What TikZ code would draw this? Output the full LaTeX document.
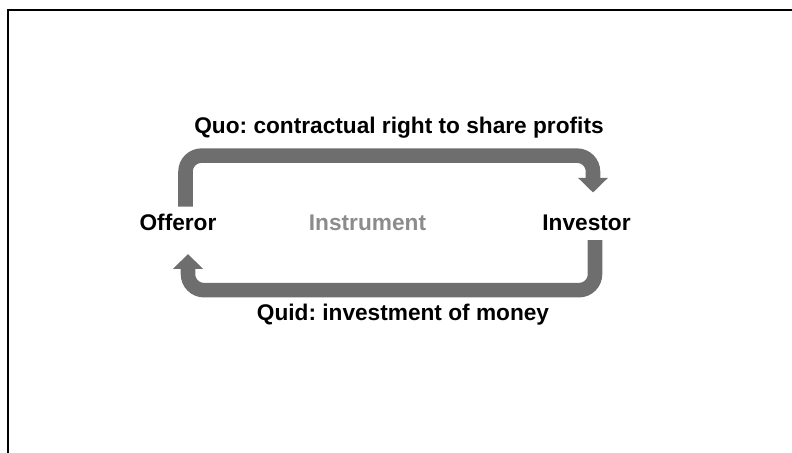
\documentclass[tikz,border=0pt]{standalone}
\usepackage{fontspec}
\setmainfont{Liberation Sans}
\usetikzlibrary{arrows.meta}
\definecolor{flowgray}{RGB}{110,110,110}
\definecolor{instgray}{RGB}{140,140,140}
\frenchspacing

\begin{document}
\begin{tikzpicture}[x=0.75pt,y=0.75pt,
  party/.style={font=\fontsize{17}{20}\selectfont\bfseries, inner sep=2pt, anchor=base},
  flow/.style={draw=flowgray, line width=10.9pt, rounded corners=12pt,
    -{Triangle[width=22.5pt,length=11pt,line width=0pt]}}]
\useasboundingbox (0,0) rectangle (792,453);
%frame
\draw[line width=1.1pt] (8,0) -- (8,443) -- (792,443);
%parties
\node[party] (offeror) at (178,222) {Offeror};
\node[party] (investor) at (586.5,222) {Investor};
\node[party, text=instgray] (instrument) at (367.5,222) {Instrument};
%labels
\node[party] (quo) at (399,319) {Quo: contractual right to share profits};
\node[party] (quid) at (403,132) {Quid: investment of money};
%quo
\draw[flow] ([shift={(7.5,5)}]offeror.north) -- ++(0,51) -| ([shift={(6.5,20)}]investor.north);
%quid
\draw[flow] ([shift={(8.5,-6)}]investor.south) -- ++(0,-50) -| ([shift={(10,-20)}]offeror.south);
\end{tikzpicture}
\end{document}
